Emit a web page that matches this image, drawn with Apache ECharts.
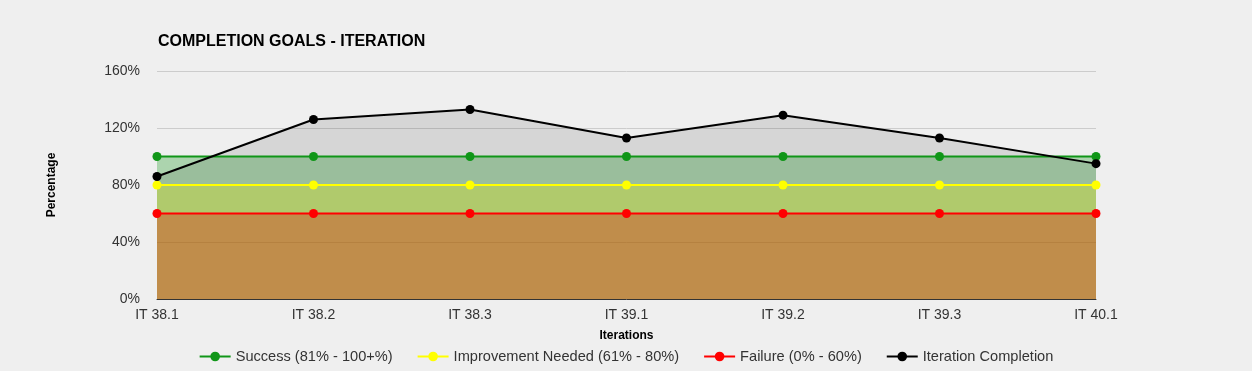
<!DOCTYPE html>
<html><head><meta charset="utf-8">
<script src="https://cdn.jsdelivr.net/npm/echarts@6/dist/echarts.min.js"></script>
<style>html,body{margin:0;padding:0;background:#efefef;}#c{width:1252px;height:371px;}</style>
</head><body><div id="c"></div>
<script>
const categories = ['IT 38.1','IT 38.2','IT 38.3','IT 39.1','IT 39.2','IT 39.3','IT 40.1'];
const success = [100,100,100,100,100,100,100];
const improvement = [80,80,80,80,80,80,80];
const failure = [60,60,60,60,60,60,60];
const completion = [86,126,133,113,129,113,95];
const yTicks = [0,40,80,120,160];

const font = "'Liberation Sans', Arial, sans-serif";
function mk(name, data, color, areaColor, areaOpacity){
  return {name, type:'line', data, symbol:'circle', symbolSize:9,
    lineStyle:{color, width:2}, itemStyle:{color},
    areaStyle:{color:areaColor, opacity:areaOpacity}, emphasis:{disabled:true}};
}
const chart = echarts.init(document.getElementById('c'), null, {renderer:'canvas'});
chart.setOption({
  backgroundColor:'#efefef',
  animation:false,
  textStyle:{fontFamily:font},
  title:{text:'COMPLETION GOALS - ITERATION', left:153, top:29,
    textStyle:{fontFamily:font, fontSize:16, fontWeight:'bold', color:'#000'}},
  grid:{left:157, right:156, top:71, bottom:72},
  legend:{bottom:2, left:'center', itemWidth:31, itemHeight:12, itemGap:24,
    textStyle:{fontFamily:font, fontSize:14.6, color:'#333'},
    data:['Success (81% - 100+%)','Improvement Needed (61% - 80%)','Failure (0% - 60%)','Iteration Completion']},
  xAxis:{type:'category', data:categories, boundaryGap:false,
    name:'Iterations', nameLocation:'middle', nameGap:31,
    nameTextStyle:{fontFamily:font, fontSize:12, fontWeight:'bold', color:'#000'},
    axisLine:{lineStyle:{color:'#333', width:1}}, axisTick:{show:false},
    axisLabel:{fontFamily:font, fontSize:14, color:'#333', margin:9}},
  yAxis:{type:'value', min:yTicks[0], max:yTicks[yTicks.length-1], interval:40,
    name:'Percentage', nameLocation:'middle', nameGap:99, nameRotate:90,
    nameTextStyle:{fontFamily:font, fontSize:12, fontWeight:'bold', color:'#000'},
    axisLine:{show:false}, axisTick:{show:false},
    axisLabel:{fontFamily:font, fontSize:14, color:'#333', formatter:'{value}%', margin:17},
    splitLine:{lineStyle:{color:'#cccccc'}}},
  series:[
    mk('Success (81% - 100+%)', success, '#109618', '#109618', 0.3),
    mk('Improvement Needed (61% - 80%)', improvement, '#ffff00', '#ffff00', 0.3),
    mk('Failure (0% - 60%)', failure, '#ff0000', '#ff0000', 0.3),
    mk('Iteration Completion', completion, '#000000', '#000000', 0.1)
  ]
});
</script></body></html>
